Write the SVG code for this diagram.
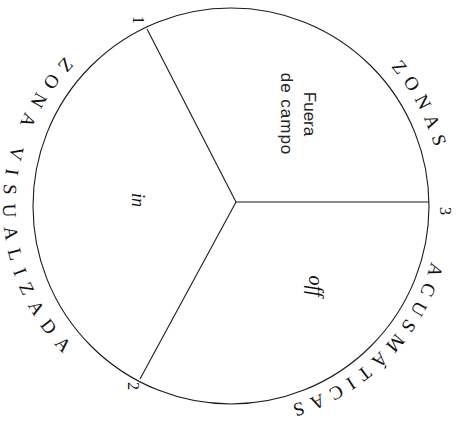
<svg xmlns="http://www.w3.org/2000/svg" width="462" height="423" viewBox="0 0 462 423">
<style>
.line{fill:none;stroke:#1a1a1a;stroke-width:1.1}
.arc{font-family:"Liberation Serif",serif;font-size:19px;fill:#111}
.num{font-family:"Liberation Serif",serif;font-size:16px;fill:#111;text-anchor:middle}
.it{font-family:"Liberation Serif",serif;font-style:italic;fill:#111;text-anchor:middle}
.sans{font-family:"Liberation Sans",sans-serif;font-size:17px;fill:#222;text-anchor:middle}
</style>
<defs>
<path id="pL" d="M 100.2 27.4 A 228 218 0 0 0 100.2 384.6"/>
<path id="pZ" d="M 337 22.4 A 212 212 0 0 1 430.2 278.5"/>
<path id="pA" d="M 335 25.9 A 208 208 0 0 1 212.9 413.2"/>
</defs>
<g id="circle">
<circle class="line" cx="231" cy="206" r="198"/>
</g>
<g id="connectors">
<line class="line" x1="236" y1="202" x2="147" y2="29"/>
<line class="line" x1="236" y1="202" x2="140" y2="379"/>
<line class="line" x1="236" y1="202" x2="429" y2="202"/>
</g>
<g id="point-1"><text class="num" transform="translate(133,20) rotate(90)">1</text></g>
<g id="point-2"><text class="num" transform="translate(128,386) rotate(90)">2</text></g>
<g id="point-3"><text class="num" transform="translate(440,211) rotate(90)">3</text></g>
<g id="zone-fuera">
<text class="sans" transform="translate(304,114) rotate(90)"><tspan x="0" y="0">Fuera</tspan><tspan x="0" y="23" letter-spacing="1">de campo</tspan></text>
</g>
<g id="zone-in"><text class="it" font-size="18" transform="translate(132,200) rotate(90)">in</text></g>
<g id="zone-off"><text class="it" font-size="20" transform="translate(309,286) rotate(90)">off</text></g>
<g id="label-visualizada">
<text class="arc" letter-spacing="9.6"><textPath href="#pL" startOffset="46">ZONA VISUALIZADA</textPath></text>
</g>
<g id="label-acusmaticas">
<text class="arc" letter-spacing="7.2"><textPath href="#pZ" startOffset="70">ZONAS</textPath></text>
<text class="arc" letter-spacing="7.2"><textPath href="#pA" startOffset="274">ACUSMÁTICAS</textPath></text>
</g>
</svg>
